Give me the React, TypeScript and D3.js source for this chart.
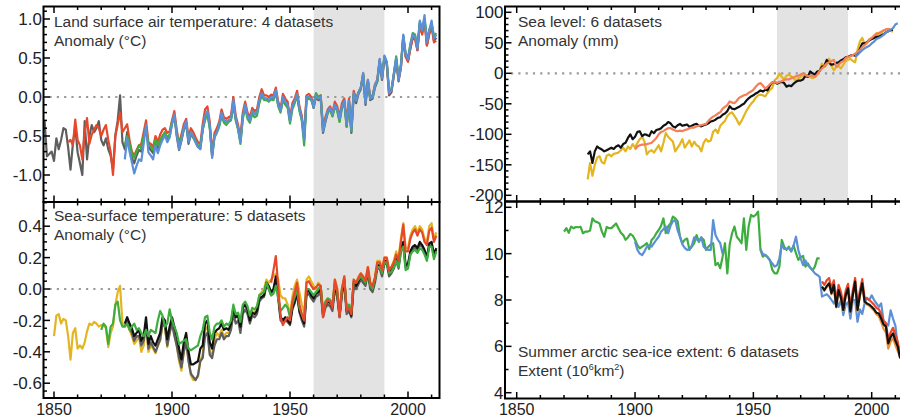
import React, { useEffect, useRef } from 'react';
import * as d3 from 'd3';

// ---- Land surface air temperature anomaly (°C), 4 datasets ----
const landGrayStart = 1846;
const landGray = [
  -0.30, -0.76, -0.73, -0.70,
  -0.82, -0.53, -0.67, -0.55, -0.40, -0.42, -0.65, -0.93, -0.60, -0.38,
  -0.71, -0.85, -1.00, -0.31, -0.80, -0.50, -0.36, -0.45, -0.40, -0.31,
  -0.55, -0.62, -0.53, -0.67, -0.75, -0.93, -0.49, -0.30, 0.02, -0.58,
  -0.67, -0.45, -0.62, -0.78, -0.85, -0.75, -0.68, -0.70, -0.52, -0.38,
  -0.64, -0.68, -0.72, -0.56, -0.66, -0.56, -0.50, -0.46, -0.55, -0.50,
  -0.34, -0.24, -0.50, -0.68, -0.56, -0.42, -0.34, -0.60, -0.48, -0.52,
  -0.58, -0.64, -0.66, -0.42, -0.26, -0.20, -0.38, -0.76, -0.50, -0.44,
  -0.36, -0.22, -0.30, -0.32, -0.30, -0.28, -0.06, -0.28, -0.40, -0.56,
  -0.24, -0.12, -0.24, -0.30, -0.18, -0.22, -0.20, -0.06, 0.04, -0.02,
  -0.02, -0.04, 0.00, -0.02, 0.08, -0.10, -0.18, -0.02, -0.06, -0.10,
  -0.30, -0.12, -0.06, 0.03, -0.16, -0.28, -0.54, -0.02, 0.00, -0.02,
  -0.14, 0.00, -0.04, -0.02, -0.46, -0.32, -0.20, -0.16, -0.24, -0.12,
  -0.16, -0.30, -0.14, -0.06, -0.38, -0.08, -0.46, 0.02, -0.08, 0.04,
  0.10, 0.28, -0.10, 0.20, -0.04, -0.02, 0.12, 0.20, 0.46, 0.22,
  0.50, 0.42, 0.02, 0.06, 0.28, 0.48, 0.20, 0.38, 0.76, 0.52,
  0.46, 0.62, 0.76, 0.76, 0.60, 0.94, 0.82, 1.00, 0.66, 0.82,
  0.94, 0.72, 0.76,
];
const landRedStart = 1856;
const landRed = [
  -0.58, -0.55, -0.62, -0.29,
  -0.55, -0.62, -0.80, -0.45, -0.27, -0.60, -0.48, -0.42, -0.36, -0.40,
  -0.50, -0.42, -0.36, -0.55, -0.70, -1.00, -0.50, -0.35, -0.20, -0.45,
  -0.40, -0.35, -0.55, -0.70, -0.75, -0.68, -0.62, -0.60, -0.45, -0.30,
  -0.58, -0.60, -0.64, -0.50, -0.58, -0.48, -0.42, -0.40, -0.46, -0.44,
  -0.30, -0.18, -0.42, -0.60, -0.48, -0.35, -0.28, -0.52, -0.40, -0.45,
  -0.52, -0.58, -0.60, -0.35, -0.16, -0.12, -0.32, -0.72, -0.46, -0.40,
  -0.32, -0.16, -0.26, -0.28, -0.26, -0.24, 0.00, -0.24, -0.36, -0.52,
  -0.20, -0.06, -0.20, -0.26, -0.14, -0.18, -0.16, 0.00, 0.10, 0.02,
  0.02, 0.00, 0.03, 0.02, 0.12, -0.06, -0.15, 0.04, -0.02, -0.06,
  -0.28, -0.08, -0.02, 0.08, -0.12, -0.24, -0.50, 0.02, 0.04, 0.00,
  -0.10, 0.04, 0.00, 0.02, -0.40, -0.26, -0.16, -0.12, -0.20, -0.06,
  -0.12, -0.25, -0.08, -0.02, -0.32, -0.02, -0.40, 0.08, -0.02, 0.06,
  0.12, 0.30, -0.06, 0.22, 0.00, 0.02, 0.16, 0.22, 0.48, 0.24,
  0.50, 0.44, 0.04, 0.08, 0.28, 0.48, 0.22, 0.38, 0.78, 0.52,
  0.45, 0.62, 0.76, 0.74, 0.60, 0.92, 0.80, 0.98, 0.66, 0.80,
  0.90, 0.70, 0.72,
];
const landGreenStart = 1880;
const landGreen = [
  -0.62, -0.50, -0.60, -0.72, -0.78, -0.70, -0.62, -0.66, -0.50, -0.40,
  -0.60, -0.64, -0.68, -0.55, -0.62, -0.55, -0.50, -0.45, -0.52, -0.48,
  -0.32, -0.25, -0.45, -0.62, -0.52, -0.40, -0.34, -0.55, -0.48, -0.52,
  -0.56, -0.62, -0.64, -0.42, -0.30, -0.22, -0.40, -0.74, -0.52, -0.46,
  -0.38, -0.24, -0.33, -0.36, -0.32, -0.30, -0.10, -0.30, -0.42, -0.60,
  -0.28, -0.14, -0.28, -0.33, -0.22, -0.26, -0.24, -0.08, 0.02, -0.04,
  -0.04, -0.06, -0.03, -0.04, 0.06, -0.12, -0.20, -0.04, -0.10, -0.14,
  -0.34, -0.16, -0.08, 0.02, -0.18, -0.30, -0.62, -0.04, -0.02, -0.04,
  -0.12, 0.05, 0.00, 0.02, -0.42, -0.30, -0.20, -0.16, -0.25, -0.12,
  -0.18, -0.32, -0.14, -0.05, -0.38, -0.06, -0.44, 0.04, -0.04, 0.06,
  0.12, 0.28, -0.06, 0.20, -0.02, 0.00, 0.14, 0.20, 0.46, 0.26,
  0.52, 0.45, 0.08, 0.10, 0.30, 0.52, 0.25, 0.42, 0.78, 0.56,
  0.50, 0.68, 0.82, 0.80, 0.64, 0.96, 0.88, 1.00, 0.74, 0.86,
  0.94, 0.78, 0.82,
];
const landBlueStart = 1880;
const landBlue = [
  -0.80, -0.53, -0.70, -0.84, -0.98, -0.88, -0.80, -0.82, -0.60, -0.36,
  -0.71, -0.75, -0.80, -0.62, -0.72, -0.62, -0.55, -0.49, -0.58, -0.52,
  -0.35, -0.22, -0.48, -0.67, -0.55, -0.40, -0.31, -0.58, -0.45, -0.50,
  -0.58, -0.64, -0.67, -0.40, -0.25, -0.18, -0.36, -0.78, -0.50, -0.45,
  -0.36, -0.20, -0.30, -0.32, -0.30, -0.28, -0.04, -0.28, -0.40, -0.58,
  -0.25, -0.10, -0.24, -0.30, -0.18, -0.22, -0.20, -0.04, 0.05, -0.02,
  -0.02, -0.04, 0.00, -0.01, 0.09, -0.10, -0.18, 0.00, -0.06, -0.10,
  -0.31, -0.12, -0.05, 0.04, -0.15, -0.28, -0.55, 0.00, 0.00, -0.02,
  -0.13, 0.02, -0.02, 0.00, -0.44, -0.30, -0.18, -0.14, -0.22, -0.10,
  -0.15, -0.28, -0.12, -0.05, -0.35, -0.05, -0.42, 0.05, -0.05, 0.05,
  0.12, 0.31, -0.08, 0.22, -0.02, 0.00, 0.15, 0.22, 0.49, 0.24,
  0.53, 0.45, 0.05, 0.09, 0.30, 0.50, 0.22, 0.40, 0.80, 0.55,
  0.48, 0.66, 0.80, 0.78, 0.62, 0.98, 0.85, 1.05, 0.70, 0.85,
  0.98, 0.75, 0.80,
];

// ---- Sea-surface temperature anomaly (°C), 5 datasets ----
const sstYellowStart = 1850;
const sstYellow = [
  -0.30, -0.17, -0.16, -0.22, -0.19, -0.20, -0.30, -0.45, -0.28, -0.25,
  -0.38, -0.36, -0.38, -0.34, -0.27, -0.22, -0.23, -0.21, -0.22, -0.24,
  -0.23, -0.23, -0.25, -0.37, -0.28, -0.24, -0.10, -0.02, 0.02, -0.22,
  -0.24, -0.22, -0.26, -0.30, -0.35, -0.33, -0.30, -0.40, -0.36, -0.22,
  -0.40, -0.36, -0.38, -0.41, -0.36, -0.33, -0.22, -0.24, -0.37, -0.28,
  -0.20, -0.28, -0.36, -0.46, -0.52, -0.40, -0.32, -0.45, -0.55, -0.58,
  -0.57, -0.56, -0.45, -0.42, -0.26, -0.24, -0.40, -0.42, -0.32, -0.28,
  -0.30, -0.26, -0.30, -0.28, -0.28, -0.24, -0.12, -0.18, -0.16, -0.26,
  -0.12, -0.10, -0.14, -0.20, -0.14, -0.15, -0.12, -0.04, -0.02, 0.00,
  0.06, 0.04, 0.06, 0.08, 0.10, 0.06, -0.04, -0.06, -0.06, -0.10,
  -0.16, -0.05, 0.02, 0.06, -0.02, -0.10, -0.15, 0.06, 0.08, 0.05,
  0.02, 0.00, 0.04, 0.02, -0.14, -0.08, -0.06, -0.07, -0.10, 0.06,
  0.00, -0.16, 0.00, 0.08, -0.14, -0.10, -0.16, 0.06, 0.04, 0.08,
  0.10, 0.08, 0.06, 0.14, 0.04, 0.02, 0.08, 0.18, 0.18, 0.12,
  0.20, 0.20, 0.12, 0.14, 0.18, 0.24, 0.20, 0.32, 0.42, 0.26,
  0.26, 0.34, 0.38, 0.40, 0.36, 0.40, 0.38, 0.32, 0.30, 0.40,
  0.42, 0.32, 0.36,
];
const sstGrayStart = 1880;
const sstGray = [
  -0.24, -0.20, -0.25, -0.28, -0.33, -0.30, -0.30, -0.36, -0.33, -0.22,
  -0.38, -0.34, -0.37, -0.40, -0.36, -0.32, -0.22, -0.24, -0.36, -0.28,
  -0.22, -0.30, -0.36, -0.44, -0.50, -0.40, -0.34, -0.46, -0.54, -0.56,
  -0.58, -0.55, -0.46, -0.44, -0.30, -0.28, -0.42, -0.44, -0.36, -0.32,
  -0.32, -0.28, -0.32, -0.30, -0.30, -0.26, -0.16, -0.22, -0.20, -0.28,
  -0.16, -0.13, -0.16, -0.22, -0.17, -0.18, -0.16, -0.08, -0.06, -0.05,
  0.02, 0.00, -0.04, -0.02, 0.06, -0.06, -0.20, -0.22, -0.20, -0.21,
  -0.23, -0.13, -0.09, -0.03, -0.15, -0.20, -0.24, -0.04, -0.03, -0.06,
  -0.08, -0.05, -0.04, -0.02, -0.18, -0.12, -0.10, -0.11, -0.14, 0.00,
  -0.05, -0.18, -0.04, 0.04, -0.16, -0.14, -0.18, 0.02, 0.00, 0.03,
  0.06, 0.04, 0.02, 0.10, 0.00, -0.02, 0.04, 0.13, 0.13, 0.08,
  0.16, 0.16, 0.08, 0.10, 0.13, 0.18, 0.13, 0.24, 0.28, 0.14,
  0.15, 0.22, 0.25, 0.27, 0.25, 0.28, 0.27, 0.24, 0.19, 0.27,
  0.28, 0.21, 0.25,
];
const sstBlackStart = 1880;
const sstBlack = [
  -0.22, -0.18, -0.22, -0.25, -0.30, -0.28, -0.26, -0.33, -0.30, -0.18,
  -0.35, -0.30, -0.34, -0.36, -0.32, -0.28, -0.18, -0.20, -0.32, -0.24,
  -0.18, -0.24, -0.30, -0.38, -0.45, -0.34, -0.28, -0.40, -0.48, -0.48,
  -0.47, -0.46, -0.38, -0.36, -0.22, -0.20, -0.34, -0.38, -0.28, -0.26,
  -0.25, -0.22, -0.26, -0.25, -0.26, -0.22, -0.12, -0.18, -0.17, -0.24,
  -0.12, -0.10, -0.13, -0.20, -0.15, -0.16, -0.14, -0.06, -0.05, -0.04,
  0.04, 0.02, -0.02, 0.00, 0.08, -0.04, -0.18, -0.20, -0.18, -0.20,
  -0.22, -0.12, -0.08, -0.02, -0.14, -0.18, -0.22, -0.02, -0.01, -0.04,
  -0.06, -0.03, -0.02, 0.00, -0.16, -0.10, -0.08, -0.09, -0.12, 0.02,
  -0.03, -0.17, -0.02, 0.06, -0.14, -0.12, -0.17, 0.04, 0.02, 0.05,
  0.08, 0.06, 0.04, 0.12, 0.02, 0.00, 0.06, 0.15, 0.15, 0.10,
  0.18, 0.18, 0.10, 0.12, 0.15, 0.20, 0.15, 0.26, 0.30, 0.15,
  0.16, 0.24, 0.27, 0.28, 0.26, 0.30, 0.28, 0.25, 0.20, 0.29,
  0.30, 0.22, 0.26,
];
const sstGreenStart = 1870;
const sstGreen = [
  -0.26, -0.22, -0.24, -0.35, -0.24, -0.22, -0.10, -0.08, -0.20, -0.24,
  -0.24, -0.22, -0.26, -0.24, -0.22, -0.26, -0.25, -0.28, -0.30, -0.26,
  -0.30, -0.26, -0.27, -0.28, -0.20, -0.14, -0.17, -0.24, -0.22, -0.13,
  -0.20, -0.24, -0.28, -0.35, -0.34, -0.33, -0.32, -0.38, -0.39, -0.38,
  -0.37, -0.36, -0.30, -0.26, -0.18, -0.17, -0.28, -0.32, -0.24, -0.22,
  -0.22, -0.20, -0.24, -0.22, -0.23, -0.20, -0.10, -0.16, -0.15, -0.21,
  -0.10, -0.08, -0.11, -0.17, -0.12, -0.13, -0.11, -0.04, -0.03, -0.02,
  0.04, 0.00, -0.04, -0.03, 0.02, -0.06, -0.14, -0.12, -0.10, -0.12,
  -0.18, -0.10, -0.05, 0.00, -0.12, -0.16, -0.20, 0.00, 0.00, -0.02,
  -0.04, -0.02, 0.00, 0.02, -0.14, -0.08, -0.06, -0.07, -0.10, 0.04,
  -0.02, -0.16, 0.00, 0.06, -0.12, -0.10, -0.14, 0.05, 0.04, 0.06,
  0.08, 0.06, 0.04, 0.12, 0.02, 0.00, 0.06, 0.14, 0.14, 0.10,
  0.17, 0.17, 0.10, 0.11, 0.14, 0.18, 0.14, 0.24, 0.27, 0.12,
  0.13, 0.22, 0.24, 0.25, 0.23, 0.26, 0.25, 0.22, 0.18, 0.27,
  0.27, 0.19, 0.24,
];
const sstRedStart = 1942;
const sstRed = [
  0.04, 0.12, 0.21, 0.02, -0.18, -0.23, -0.20, -0.18,
  -0.20, -0.08, -0.02, 0.04, -0.10, -0.16, -0.20, 0.04, 0.05, 0.02,
  0.00, 0.01, 0.03, 0.02, -0.18, -0.10, -0.07, -0.08, -0.12, 0.06,
  0.00, -0.18, 0.00, 0.08, -0.14, -0.12, -0.16, 0.06, 0.04, 0.07,
  0.10, 0.08, 0.05, 0.14, 0.04, 0.02, 0.07, 0.17, 0.17, 0.12,
  0.20, 0.20, 0.12, 0.14, 0.17, 0.22, 0.18, 0.30, 0.41, 0.24,
  0.24, 0.32, 0.36, 0.38, 0.34, 0.38, 0.36, 0.30, 0.28, 0.37,
  0.39, 0.30, 0.34,
];

// ---- Sea level anomaly (mm), 6 datasets ----
const slYellowStart = 1880;
const slYellow = [
  -174, -147, -168, -150, -138, -136, -146, -148, -135, -133,
  -136, -132, -131, -130, -126, -122, -128, -120, -124, -116,
  -122, -114, -108, -104, -112, -133, -128, -126, -130, -124,
  -118, -128, -114, -98, -104, -108, -112, -128, -122, -116,
  -108, -122, -116, -110, -120, -112, -118, -120, -128, -114,
  -108, -112, -110, -96, -92, -98, -86, -82, -78, -70,
  -66, -64, -70, -76, -84, -78, -70, -62, -56, -50,
  -46, -40, -36, -35, -36, -38, -32, -27, -24, -11,
  -8, 0, -6, -10, -4, -2, -5, -8, -12, -8,
  -6, -3, -2, -4, -6, -8, -6, -2, 4, 16,
  10, 14, 24, 12, 5, 10, 12, 8, 14, 20,
  22, 24, 20, 18, 38, 52, 58, 48, 50, 56,
  58, 60, 66, 64, 66, 70, 72, 73, 70, 68,
];
const slBlackStart = 1880;
const slBlack = [
  -133, -128, -147, -128, -120, -123, -125, -128, -126, -124,
  -122, -124, -120, -118, -122, -116, -114, -106, -100, -108,
  -104, -96, -95, -103, -100, -101, -103, -95, -98, -93,
  -92, -90, -86, -84, -80, -82, -87, -89, -85, -83,
  -86, -85, -84, -88, -86, -84, -83, -86, -87, -85,
  -84, -82, -79, -78, -76, -73, -72, -68, -66, -62,
  -54, -58, -59, -57, -55, -52, -50, -45, -41, -38,
  -36, -33, -31, -28, -30, -27, -28, -20, -15, -14,
  -17, -15, -14, -16, -22, -20, -21, -17, -14, -12,
  -12, -10, -4, -6, 3, 0, -2, 3, 4, 11,
  12, 22, 17, 14, 15, 17, 18, 21, 23, 26,
  27, 29, 30, 29, 32, 40, 49, 49, 51, 54,
  56, 58, 60, 60, 62, 64, 67, 69, 71, 71,
];
const slCoralStart = 1900;
const slCoral = [
  -125, -120, -118, -117, -117, -116, -115, -114, -110, -106,
  -100, -96, -95, -92, -90, -90, -92, -94, -95, -94,
  -95, -93, -92, -90, -89, -89, -87, -86, -85, -84,
  -83, -78, -74, -71, -69, -66, -64, -58, -55, -52,
  -46, -48, -49, -45, -40, -38, -36, -35, -32, -30,
  -27, -22, -18, -16, -20, -25, -22, -18, -15, -14,
  -16, -14, -13, -11, -10, -10, -8, -7, -5, -4,
  -2, 0, -3, -5, -4, -4, -6, -2, 4, 8,
  12, 16, 18, 20, 22, 11, 14, 18, 20, 25,
  27, 28, 30, 32, 35, 38, 43, 46, 50, 55,
  58, 62, 64, 66, 68, 70, 72, 72, 72,
];
const slBlueStart = 1993;
const slBlue = [28, 30, 34, 38, 41, 43, 45, 49, 52, 56, 58, 60, 63, 67, 69, 71, 74, 80, 82];

// ---- Summer arctic sea-ice extent (10^6 km^2), 6 datasets ----
const iceGreenStart = 1870;
const iceGreen = [
  10.95, 11.10, 10.90, 11.17, 11.10, 11.15, 11.14, 11.16, 10.88, 10.95,
  10.95, 11.00, 11.52, 11.40, 11.36, 11.30, 10.95, 10.73, 11.15, 11.10,
  11.10, 11.20, 11.30, 11.10, 10.90, 10.80, 10.60, 10.70, 10.85, 10.78,
  10.60, 10.37, 10.23, 10.30, 10.37, 10.45, 10.20, 10.59, 10.70, 10.88,
  11.02, 11.20, 11.52, 10.88, 11.17, 11.30, 11.60, 11.52, 11.40, 10.73,
  10.45, 10.60, 10.65, 10.16, 10.30, 10.45, 10.80, 10.50, 10.70, 10.60,
  10.16, 10.30, 10.40, 10.45, 9.50, 9.60, 9.37, 9.87, 10.45, 9.15,
  10.40, 10.88, 11.17, 10.73, 10.60, 10.45, 11.52, 10.16, 11.17, 11.67,
  11.60, 11.67, 11.81, 10.16, 9.87, 9.95, 9.85, 9.73, 9.30, 9.15,
  9.15, 9.44, 10.59, 10.30, 10.16, 10.30, 10.10, 10.35, 10.02, 9.73,
  9.85, 9.90, 9.44, 9.58, 9.40, 9.28, 9.44, 9.80, 9.80,
];
const iceBlueStart = 1900;
const iceBlue: (number | null)[] = [
  10.52, 10.16, 10.00, 9.94, 10.10, 10.30, 10.37, 10.30, 10.45, 10.60,
  10.73, 10.95, 11.05, 11.17, 10.88, 11.20, 11.40, 11.45, 11.00, 10.73,
  10.40, 10.25, 10.16, 10.20, 10.35, 10.70, 10.62, 10.55, 10.70, 10.30,
  10.20, 10.16, 10.16, 11.45, 10.80, 10.60, 10.45, 10.00, null, null,
  null, null, null, null, null, null, null, null, null, null,
  null, null, null, 10.20, 9.98, 9.94, 9.85, 9.70, 9.58, 9.44,
  9.50, 9.80, 10.40, 10.20, 10.20, 10.25, 10.10, 10.35, 10.73, 10.16,
  9.80, 9.50, 9.70, 9.50, 9.40, 9.28, 9.15, 9.08, 9.00, 8.15,
  8.20, 8.25, 8.15, 8.00, 7.85, 8.10, 7.70, 8.00, 7.35, 7.80,
  7.90, 7.20, 8.00, 8.00, 7.06, 7.60, 7.40, 7.85, 8.10, 8.00,
  8.20, 8.00, 7.85, 7.70, 7.85, 7.10, 7.00, 6.90, 7.55, 7.20,
  6.90, 6.00, 5.95,
];
const iceSatStart = 1979;
const iceOrange = [
  8.55, 8.40, 8.55, 8.68, 8.25, 8.60, 7.68, 8.40, 8.05, 7.52, 8.15,
  8.45, 7.45, 8.15, 8.72, 7.52, 8.15, 8.68, 7.90, 7.80, 7.75,
  7.65, 7.55, 7.38, 7.30, 7.05, 6.75, 6.60, 5.90, 6.20, 6.35,
  6.05, 5.80, 5.55,
];
const iceRed = [
  8.80, 8.65, 8.85, 8.95, 8.50, 8.85, 7.95, 8.65, 8.35, 7.80, 8.40,
  8.70, 7.70, 8.40, 8.95, 7.80, 8.40, 8.90, 8.10, 8.05, 8.00,
  7.90, 7.80, 7.65, 7.60, 7.40, 7.10, 7.00, 6.30, 6.60, 6.80,
  6.50, 6.20, 5.55,
];
const iceBlack = [
  8.58, 8.43, 8.60, 8.72, 8.29, 8.65, 7.71, 8.43, 8.10, 7.57, 8.20,
  8.50, 7.50, 8.20, 8.79, 7.57, 8.20, 8.72, 7.93, 7.85, 7.80,
  7.71, 7.60, 7.45, 7.42, 7.20, 6.95, 6.85, 6.13, 6.40, 6.56,
  6.25, 6.00, 5.48,
];

const xTickYears = [1850, 1900, 1950, 2000];
const refPeriod = [1960, 1990];

const COLORS = {
  gray: '#5e5e5e',
  black: '#111111',
  red: '#e8482a',
  green: '#3dae3d',
  blue: '#5b8fd6',
  yellow: '#e3b521',
  coral: '#f47f58',
  orange: '#f0903a',
};

type Series = { start: number; values: (number | null)[]; color: string };
type Box = { l: number; r: number; t: number; b: number };
type Panel = {
  id: string;
  box: Box;
  x: d3.ScaleLinear<number, number>;
  y: d3.ScaleLinear<number, number>;
  majors: number[];
  minorStep: number;
  fmt: (v: number) => string;
  band: boolean;
  zero: boolean;
  xLabels: boolean;
  series: Series[];
  title: string[];
  titlePos: [number, number];
};

const FONT = '"Liberation Sans", Arial, Helvetica, sans-serif';

const App = () => {
  const ref = useRef<SVGSVGElement>(null);

  useEffect(() => {
    const svg = d3.select(ref.current);
    svg.selectAll('*').remove();

    const xL = d3.scaleLinear().domain([1850, 2000]).range([54, 408]);
    const xR = d3.scaleLinear().domain([1850, 2000]).range([516.7, 871.7]);

    const panels: Panel[] = [
      {
        id: 'land',
        box: { l: 43.5, r: 439.5, t: 6.5, b: 202 },
        x: xL,
        y: d3.scaleLinear().domain([-1, 1]).range([175, 19]),
        majors: [-1, -0.5, 0, 0.5, 1],
        minorStep: 0.1,
        fmt: v => v.toFixed(1),
        band: true,
        zero: true,
        xLabels: false,
        series: [
          { start: landGrayStart, values: landGray, color: COLORS.gray },
          { start: landRedStart, values: landRed, color: COLORS.red },
          { start: landGreenStart, values: landGreen, color: COLORS.green },
          { start: landBlueStart, values: landBlue, color: COLORS.blue },
        ],
        title: ['Land surface air temperature: 4 datasets', 'Anomaly (°C)'],
        titlePos: [54, 27],
      },
      {
        id: 'sst',
        box: { l: 43.5, r: 439.5, t: 202, b: 398 },
        x: xL,
        y: d3.scaleLinear().domain([-0.6, 0.4]).range([383.2, 226.2]),
        majors: [-0.6, -0.4, -0.2, 0, 0.2, 0.4],
        minorStep: 0.05,
        fmt: v => v.toFixed(1),
        band: true,
        zero: true,
        xLabels: true,
        series: [
          { start: sstYellowStart, values: sstYellow, color: COLORS.yellow },
          { start: sstGrayStart, values: sstGray, color: COLORS.gray },
          { start: sstBlackStart, values: sstBlack, color: COLORS.black },
          { start: sstGreenStart, values: sstGreen, color: COLORS.green },
          { start: sstRedStart, values: sstRed, color: COLORS.red },
        ],
        title: ['Sea-surface temperature: 5 datasets', 'Anomaly (°C)'],
        titlePos: [54, 221],
      },
      {
        id: 'sea',
        box: { l: 505, r: 905, t: 6.5, b: 201.5 },
        x: xR,
        y: d3.scaleLinear().domain([-200, 100]).range([195.3, 12.3]),
        majors: [-200, -150, -100, -50, 0, 50, 100],
        minorStep: 10,
        fmt: v => String(v),
        band: true,
        zero: true,
        xLabels: false,
        series: [
          { start: slYellowStart, values: slYellow, color: COLORS.yellow },
          { start: slBlackStart, values: slBlack, color: COLORS.black },
          { start: slCoralStart, values: slCoral, color: COLORS.coral },
          { start: slBlueStart, values: slBlue, color: COLORS.blue },
        ],
        title: ['Sea level: 6 datasets', 'Anomaly (mm)'],
        titlePos: [518, 27],
      },
      {
        id: 'ice',
        box: { l: 505, r: 905, t: 201.5, b: 398.5 },
        x: xR,
        y: d3.scaleLinear().domain([4, 12]).range([392.7, 207.3]),
        majors: [4, 6, 8, 10, 12],
        minorStep: 1,
        fmt: v => String(v),
        band: false,
        zero: false,
        xLabels: true,
        series: [
          { start: iceGreenStart, values: iceGreen, color: COLORS.green },
          { start: iceBlueStart, values: iceBlue, color: COLORS.blue },
          { start: iceSatStart, values: iceOrange, color: COLORS.orange },
          { start: iceSatStart, values: iceRed, color: COLORS.red },
          { start: iceSatStart, values: iceBlack, color: COLORS.black },
        ],
        title: ['Summer arctic sea-ice extent: 6 datasets', 'Extent (10'],
        titlePos: [518, 357],
      },
    ];

    panels.forEach(p => {
      const { box, x, y } = p;
      const g = svg.append('g');

      g.append('clipPath')
        .attr('id', `clip-${p.id}`)
        .append('rect')
        .attr('x', box.l)
        .attr('y', box.t)
        .attr('width', box.r - box.l)
        .attr('height', box.b - box.t);

      const plot = g.append('g').attr('clip-path', `url(#clip-${p.id})`);

      if (p.band) {
        plot
          .append('rect')
          .attr('x', x(refPeriod[0]))
          .attr('y', box.t)
          .attr('width', x(refPeriod[1]) - x(refPeriod[0]))
          .attr('height', box.b - box.t)
          .attr('fill', '#e3e3e3');
      }

      if (p.zero) {
        plot
          .append('line')
          .attr('x1', box.l + 6)
          .attr('x2', box.r)
          .attr('y1', y(0))
          .attr('y2', y(0))
          .attr('stroke', '#9a9a9a')
          .attr('stroke-width', 2.2)
          .attr('stroke-dasharray', '2.2 5.1');
      }

      p.series.forEach(s => {
        const line = d3
          .line<number | null>()
          .defined(v => v !== null)
          .x((_, i) => x(s.start + i))
          .y(v => y(v as number));
        plot
          .append('path')
          .attr('d', line(s.values))
          .attr('fill', 'none')
          .attr('stroke', s.color)
          .attr('stroke-width', 2.2)
          .attr('stroke-linejoin', 'round');
      });

      // frame
      g.append('rect')
        .attr('x', box.l)
        .attr('y', box.t)
        .attr('width', box.r - box.l)
        .attr('height', box.b - box.t)
        .attr('fill', 'none')
        .attr('stroke', '#000')
        .attr('stroke-width', 2);

      // y ticks, inward
      const vTop = y.invert(box.t);
      const vBot = y.invert(box.b);
      const minors = d3
        .range(Math.ceil(vBot / p.minorStep) * p.minorStep, vTop, p.minorStep)
        .filter(v => !p.majors.some(m => Math.abs(m - v) < p.minorStep / 10));
      g.selectAll(null)
        .data(minors)
        .enter()
        .append('line')
        .attr('x1', box.l)
        .attr('x2', box.l + 3.5)
        .attr('y1', d => y(d))
        .attr('y2', d => y(d))
        .attr('stroke', '#000')
        .attr('stroke-width', 1.5);
      g.selectAll(null)
        .data(p.majors)
        .enter()
        .append('line')
        .attr('x1', box.l)
        .attr('x2', box.l + 6.5)
        .attr('y1', d => y(d))
        .attr('y2', d => y(d))
        .attr('stroke', '#000')
        .attr('stroke-width', 1.5);
      g.selectAll(null)
        .data(p.majors)
        .enter()
        .append('text')
        .attr('x', box.l - 1.5)
        .attr('y', d => y(d))
        .attr('dy', '0.36em')
        .attr('text-anchor', 'end')
        .attr('font-family', FONT)
        .attr('font-size', 17)
        .attr('fill', '#222')
        .text(d => p.fmt(d));

      // x ticks on top and bottom edges, pointing inward
      const xMin = x.invert(box.l);
      const xMax = x.invert(box.r);
      const decades = d3.range(1850, 2030, 10).filter(d => d > xMin && d < xMax);
      [box.t, box.b].forEach((edge, k) => {
        const dir = k === 0 ? 1 : -1;
        g.selectAll(null)
          .data(decades)
          .enter()
          .append('line')
          .attr('x1', d => x(d))
          .attr('x2', d => x(d))
          .attr('y1', edge)
          .attr('y2', d => edge + dir * (xTickYears.includes(d) ? 6.5 : 3.5))
          .attr('stroke', '#000')
          .attr('stroke-width', 1.5);
      });

      if (p.xLabels) {
        g.selectAll(null)
          .data(xTickYears)
          .enter()
          .append('text')
          .attr('x', d => x(d))
          .attr('y', 415)
          .attr('text-anchor', 'middle')
          .attr('font-family', FONT)
          .attr('font-size', 16)
          .attr('fill', '#222')
          .text(d => String(d));
      }

      // title block
      const t = g
        .append('text')
        .attr('font-family', FONT)
        .attr('font-size', 15.5)
        .attr('fill', '#333');
      t.append('tspan').attr('x', p.titlePos[0]).attr('y', p.titlePos[1]).text(p.title[0]);
      const l2 = t
        .append('tspan')
        .attr('x', p.titlePos[0])
        .attr('y', p.titlePos[1] + 18.5)
        .text(p.title[1]);
      if (p.id === 'ice') {
        l2.append('tspan').attr('dy', -6).attr('font-size', 9).text('6');
        l2.append('tspan').attr('dy', 6).text('km');
        l2.append('tspan').attr('dy', -6).attr('font-size', 9).text('2');
        l2.append('tspan').attr('dy', 6).text(')');
      }
    });
  }, []);

  return (
    <svg
      ref={ref}
      width={900}
      height={418}
      style={{ position: 'absolute', left: 0, top: 0, background: '#fff' }}
    />
  );
};

export default App;
